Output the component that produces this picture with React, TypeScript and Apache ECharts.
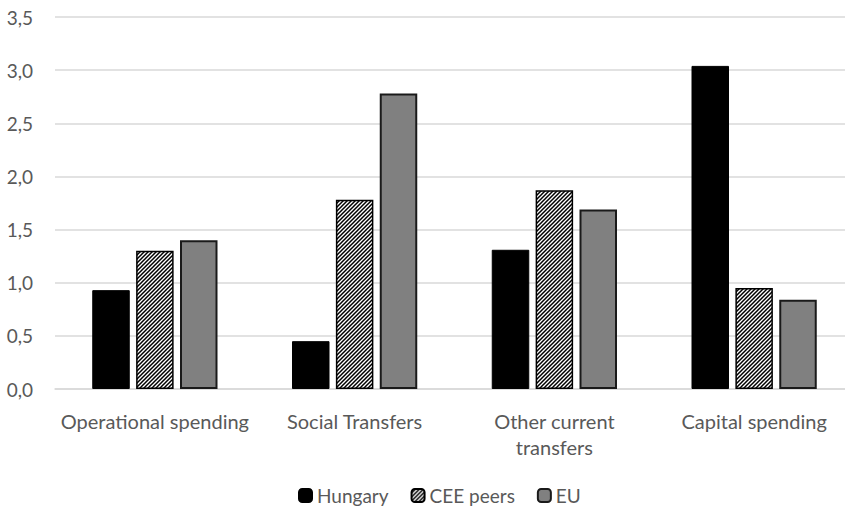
import React, { useEffect, useRef } from "react";
import * as echarts from "echarts";

const categories = [
  "Operational spending",
  "Social Transfers",
  "Other current\ntransfers",
  "Capital spending",
];
const hungary = [0.93, 0.45, 1.31, 3.04];
const ceePeers = [1.3, 1.78, 1.87, 0.95];
const eu = [1.4, 2.78, 1.69, 0.84];

const FONT = "Lato, 'Open Sans', sans-serif";
const TEXT = "#595959";

// Diagonal hatch tile used for the "CEE peers" series
function makeHatch(): HTMLCanvasElement {
  const s = 4;
  const c = document.createElement("canvas");
  c.width = s;
  c.height = s;
  const ctx = c.getContext("2d")!;
  ctx.fillStyle = "#ffffff";
  ctx.fillRect(0, 0, s, s);
  ctx.strokeStyle = "#000000";
  ctx.lineWidth = 1.5;
  ctx.beginPath();
  ctx.moveTo(-1, 1);
  ctx.lineTo(1, -1);
  ctx.moveTo(0, s);
  ctx.lineTo(s, 0);
  ctx.moveTo(s - 1, s + 1);
  ctx.lineTo(s + 1, s - 1);
  ctx.stroke();
  return c;
}

export default function App() {
  const ref = useRef<HTMLDivElement>(null);

  useEffect(() => {
    if (!ref.current) return;
    const chart = echarts.init(ref.current, undefined, { renderer: "svg" });
    const hatch = {
      image: makeHatch(),
      repeat: "repeat",
      imageWidth: 4,
      imageHeight: 4,
    };
    chart.setOption({
      animation: false,
      backgroundColor: "#ffffff",
      // the canvas is wider than the window, so the plot runs past its right edge
      grid: { left: 55, right: 6, top: 17, bottom: 117 },
      legend: {
        bottom: 1,
        left: 298,
        padding: 0,
        itemWidth: 13,
        itemHeight: 13,
        itemGap: 22,
        textStyle: { color: TEXT, fontSize: 19, fontFamily: FONT },
        data: ["Hungary", "CEE peers", "EU"],
      },
      xAxis: {
        type: "category",
        data: categories,
        axisLine: { lineStyle: { color: "#d9d9d9", width: 1.5 } },
        axisTick: { show: false },
        axisLabel: {
          color: TEXT,
          fontSize: 20,
          fontFamily: FONT,
          lineHeight: 26,
          margin: 19,
          interval: 0,
        },
      },
      yAxis: {
        type: "value",
        min: 0,
        max: 3.5,
        interval: 0.5,
        axisLine: { show: false },
        axisTick: { show: false },
        splitLine: { lineStyle: { color: "#d9d9d9", width: 1.5 } },
        axisLabel: {
          color: TEXT,
          fontSize: 19,
          fontFamily: FONT,
          margin: 22,
          formatter: (v: number) => v.toFixed(1).replace(".", ","),
        },
      },
      series: [
        {
          name: "Hungary",
          type: "bar",
          data: hungary,
          barWidth: 37.5,
          barGap: "17%",
          itemStyle: { color: "#000000", borderColor: "#000000", borderWidth: 1 },
        },
        {
          name: "CEE peers",
          type: "bar",
          data: ceePeers,
          barWidth: 37.5,
          barGap: "17%",
          itemStyle: { color: hatch, borderColor: "#000000", borderWidth: 1.5 },
        },
        {
          name: "EU",
          type: "bar",
          data: eu,
          barWidth: 37.5,
          barGap: "17%",
          itemStyle: { color: "#808080", borderColor: "#1a1a1a", borderWidth: 2 },
        },
      ],
    });
    return () => chart.dispose();
  }, []);

  return (
    <div
      style={{
        position: "fixed",
        left: 0,
        top: 0,
        width: 845,
        height: 506,
        overflow: "hidden",
      }}
    >
      <div ref={ref} style={{ width: 860, height: 506 }} />
    </div>
  );
}
